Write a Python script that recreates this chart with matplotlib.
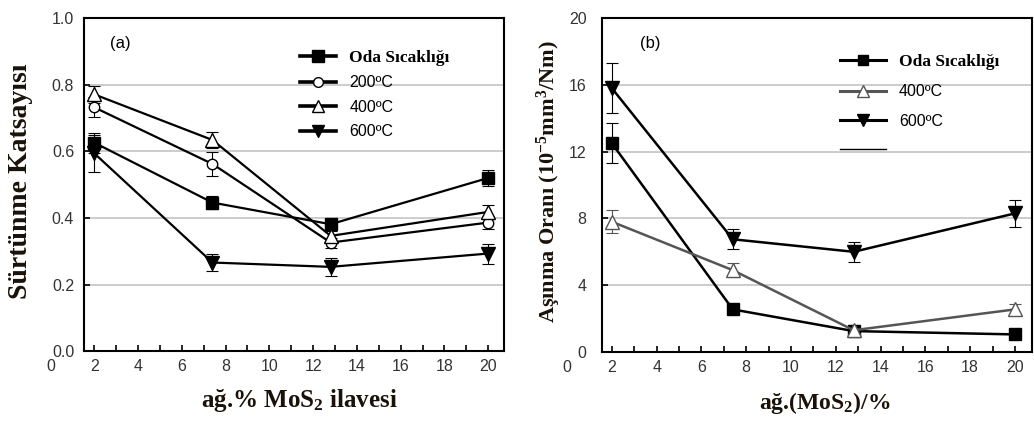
import matplotlib
matplotlib.use('Agg')
import matplotlib.pyplot as plt
from matplotlib.lines import Line2D
from matplotlib.ticker import MultipleLocator

plt.rcParams['font.family'] = ['Liberation Sans', 'DejaVu Sans']
plt.rcParams['mathtext.fontset'] = 'custom'
plt.rcParams['mathtext.rm'] = 'Liberation Serif:bold'
plt.rcParams['mathtext.it'] = 'Liberation Serif:bold'
plt.rcParams['mathtext.bf'] = 'Liberation Serif:bold'

# ---- data (a) friction coefficient
mos2 = [2, 7.4, 12.8, 20]
mu_rt = [0.626, 0.446, 0.381, 0.52]
mu_rt_err = [0.03, 0.02, 0.015, 0.025]
mu_200 = [0.732, 0.562, 0.326, 0.386]
mu_200_err = [0.03, 0.035, 0.015, 0.02]
mu_400 = [0.771, 0.634, 0.346, 0.418]
mu_400_err = [0.025, 0.025, 0.015, 0.02]
mu_600 = [0.594, 0.266, 0.253, 0.293]
mu_600_err = [0.055, 0.025, 0.028, 0.03]

# ---- data (b) wear rate
wr_rt = [12.5, 2.55, 1.25, 1.05]
wr_rt_err = [1.2, 0.2, 0.2, 0.15]
wr_400 = [7.8, 4.9, 1.3, 2.55]
wr_400_err = [0.7, 0.4, 0.3, 0.3]
wr_600 = [15.8, 6.75, 6.0, 8.3]
wr_600_err = [1.5, 0.6, 0.6, 0.8]

lab_rt = 'Oda Sıcaklığı'
lab_200 = '200ºC'
lab_400 = '400ºC'
lab_600 = '600ºC'

fig = plt.figure(figsize=(10.34, 4.21), dpi=100)
axa = fig.add_axes([0.0812, 0.166, 0.406, 0.791])
axb = fig.add_axes([0.582, 0.164, 0.416, 0.793])

tickcol = '#333333'
serif_bold = dict(family='Liberation Serif', weight='bold', color='#1a1208')


def series(ax, y, err, marker, mfc, col, lw, ms):
    ax.errorbar(mos2, y, yerr=err, fmt='none', ecolor=col, elinewidth=0.8,
                capsize=4, capthick=0.8, zorder=3)
    ax.plot(mos2, y, color=col, lw=lw, marker=marker, mfc=mfc, mec=col,
            mew=1.0, ms=ms, zorder=4)


def style(ax, ymax, ystep, pad_y):
    for s in ax.spines.values():
        s.set_linewidth(1.5)
    ax.set_ylim(0, ymax)
    ax.yaxis.set_major_locator(MultipleLocator(ystep))
    ax.xaxis.set_major_locator(MultipleLocator(2))
    ax.xaxis.set_minor_locator(MultipleLocator(1))
    ax.tick_params(axis='both', which='both', direction='in', length=4,
                   width=1.2, colors='black', labelcolor=tickcol, labelsize=11.5)
    ax.tick_params(axis='y', pad=pad_y)
    ax.tick_params(axis='x', pad=6)
    ax.tick_params(top=False, right=False, which='both')
    for yv in ax.get_yticks():
        if 0 < yv < ymax:
            ax.axhline(yv, color='#c4c4c4', lw=1.2, zorder=0)
    # "0" label that sits outside the axes
    ax.text(0, -0.047, '0', transform=ax.get_xaxis_transform(), ha='center',
            va='center', fontsize=11.5, color=tickcol, clip_on=False)


# ---- panel (a)
series(axa, mu_rt, mu_rt_err, 's', 'black', 'black', 1.6, 9)
series(axa, mu_200, mu_200_err, 'o', 'white', 'black', 1.6, 7.5)
series(axa, mu_400, mu_400_err, '^', 'white', 'black', 1.6, 9.5)
series(axa, mu_600, mu_600_err, 'v', 'black', 'black', 1.6, 9.5)
axa.set_xlim(1.53, 20.71)
style(axa, 1.0, 0.2, 7)
axa.set_yticks([0, 0.2, 0.4, 0.6, 0.8, 1.0])
axa.set_yticklabels(['0.0', '0.2', '0.4', '0.6', '0.8', '1.0'])
axa.text(0.086, 0.925, '(a)', transform=axa.transAxes, ha='center',
         va='center', fontsize=12)

ha = [Line2D([], [], color='black', lw=2.6, marker='s', ms=8, mfc='black'),
      Line2D([], [], color='black', lw=2.6, marker='o', ms=7, mfc='white'),
      Line2D([], [], color='black', lw=2.6, marker='^', ms=8.5, mfc='white'),
      Line2D([], [], color='black', lw=2.6, marker='v', ms=8.5, mfc='black')]
lega = axa.legend(ha, [lab_rt, lab_200, lab_400, lab_600], loc='upper left',
                  bbox_to_anchor=(0.514, 0.905), frameon=False, fontsize=11.5,
                  handlelength=2.3, handletextpad=0.8, labelspacing=0.6,
                  borderpad=0, borderaxespad=0)
lega.get_texts()[0].set_fontproperties(dict(family='Liberation Serif', weight='bold', size=12.5))
axa.set_ylabel('Sürtünme Katsayısı', fontsize=20, **serif_bold)
axa.yaxis.label.set_verticalalignment('center')
axa.yaxis.set_label_coords(-0.15, 0.51)
axa.set_xlabel('ağ.% MoS$_2$ ilavesi', fontsize=18, **serif_bold)
axa.xaxis.label.set_verticalalignment('center')
axa.xaxis.set_label_coords(0.514, -0.147)

# ---- panel (b)
gray = '#555555'
series(axb, wr_rt, wr_rt_err, 's', 'black', 'black', 1.8, 8.5)
series(axb, wr_400, wr_400_err, '^', 'white', gray, 1.8, 10)
series(axb, wr_600, wr_600_err, 'v', 'black', 'black', 1.8, 10)
axb.set_xlim(1.55, 20.76)
style(axb, 20, 4, 11)
axb.text(0.112, 0.925, '(b)', transform=axb.transAxes, ha='center',
         va='center', fontsize=12)

hb = [Line2D([], [], color='black', lw=2.2, marker='s', ms=7.5, mfc='black'),
      Line2D([], [], color=gray, lw=2.2, marker='^', ms=9, mfc='white'),
      Line2D([], [], color='black', lw=2.2, marker='v', ms=9, mfc='black'),
      Line2D([], [], color='black', lw=1.0)]
legb = axb.legend(hb, [lab_rt, lab_400, lab_600, ''], loc='upper left',
                  bbox_to_anchor=(0.553, 0.893), frameon=False, fontsize=11.5,
                  handlelength=2.9, handletextpad=0.8, labelspacing=0.9,
                  borderpad=0, borderaxespad=0)
legb.get_texts()[0].set_fontproperties(dict(family='Liberation Serif', weight='bold', size=12.5))
axb.set_ylabel('Aşınma Oranı (10$^{-5}$mm$^3$/Nm)', fontsize=16, **serif_bold)
axb.yaxis.label.set_verticalalignment('center')
axb.yaxis.set_label_coords(-0.123, 0.51)
axb.set_xlabel('ağ.(MoS$_2$)/%', fontsize=17, **serif_bold)
axb.xaxis.label.set_verticalalignment('center')
axb.xaxis.set_label_coords(0.519, -0.153)

fig.savefig('out.png', dpi=100)
